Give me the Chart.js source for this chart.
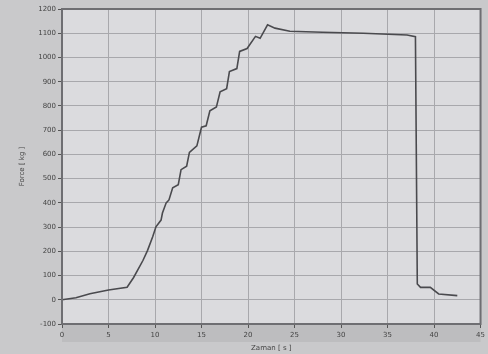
<!DOCTYPE html>
<html>
<head>
<meta charset="utf-8">
<script src="https://cdn.jsdelivr.net/npm/chart.js@4/dist/chart.umd.min.js"></script>
<style>
  html, body { margin: 0; padding: 0; background: #c9c9cb; }
  #wrap { width: 488px; height: 354px; }
</style>
</head>
<body>
<div id="wrap"><canvas id="c" width="488" height="354"></canvas></div>
<script>
// time in seconds
const timeS = [0, 1.5, 3, 5, 7, 7.7, 8.7, 9.2, 9.75, 10.1, 10.65, 10.8, 11.2, 11.5, 11.9, 12.5,
  12.8, 13.4, 13.7, 14.5, 15.0, 15.5, 15.9, 16.6, 17.0, 17.7, 18.0, 18.8, 19.1, 19.9, 20.8,
  21.3, 22.1, 22.9, 24.5, 28, 32.4, 37.1, 38.0, 38.2, 38.55, 39.6, 40.5, 42.5];
// force in kg
const forceKg = [0, 8, 25, 40, 52, 92, 162, 204, 260, 301, 329, 358, 400, 412, 462, 475,
  537, 551, 608, 635, 712, 718, 780, 796, 858, 871, 942, 954, 1025, 1037, 1087,
  1079, 1135, 1121, 1108, 1104, 1100, 1093, 1086, 65, 51, 51, 24, 17];

const xTitle = 'Zaman [ s ]';
const yTitle = 'Force [ kg ]';

const points = timeS.map(function (t, i) { return { x: t, y: forceKg[i] }; });

// paints the scan-like backgrounds: grey page, lighter plot area, darker band under it
const backdrop = {
  id: 'backdrop',
  beforeDraw: function (chart) {
    const ctx = chart.ctx;
    const a = chart.chartArea;
    ctx.save();
    ctx.fillStyle = '#c9c9cb';
    ctx.fillRect(0, 0, chart.width, chart.height);
    ctx.fillStyle = '#bdbdbf';
    ctx.fillRect(a.left, a.bottom, a.right - a.left, 18);
    ctx.fillStyle = '#dbdbde';
    ctx.fillRect(a.left, a.top, a.right - a.left, a.bottom - a.top);
    ctx.restore();
  },
  afterDraw: function (chart) {
    const ctx = chart.ctx;
    const a = chart.chartArea;
    ctx.save();
    ctx.strokeStyle = '#6e6e72';
    ctx.lineWidth = 2;
    ctx.strokeRect(a.left, a.top, a.right - a.left, a.bottom - a.top);
    ctx.restore();
  }
};

new Chart(document.getElementById('c'), {
  type: 'line',
  data: {
    datasets: [{
      data: points,
      borderColor: '#4a4a4e',
      borderWidth: 1.6,
      pointRadius: 0,
      tension: 0,
      fill: false
    }]
  },
  options: {
    responsive: false,
    animation: false,
    layout: { padding: { left: 0, right: 5, top: 9, bottom: 0 } },
    plugins: { legend: { display: false }, tooltip: { enabled: false } },
    scales: {
      x: {
        type: 'linear',
        min: 0,
        max: 45,
        ticks: { stepSize: 5, color: '#444', font: { family: 'DejaVu Sans', size: 7 }, padding: 3 },
        grid: { color: '#a8a8ac', lineWidth: 1, tickLength: 4, tickColor: '#555' },
        border: { display: false },
        title: { display: true, text: xTitle, color: '#444', font: { family: 'DejaVu Sans', size: 7 }, padding: { top: 0, bottom: 2 } },
        afterFit: function (scale) { scale.height = 30; }
      },
      y: {
        min: -100,
        max: 1200,
        ticks: {
          stepSize: 100, color: '#444', font: { family: 'DejaVu Sans', size: 7 }, padding: 2,
          callback: function (v) { return String(v); }
        },
        grid: { color: '#a8a8ac', lineWidth: 1, tickLength: 4, tickColor: '#555' },
        border: { display: false },
        title: { display: true, text: yTitle, color: '#444', font: { family: 'DejaVu Sans', size: 7 }, padding: { top: 18, bottom: 0 } },
        afterFit: function (scale) { scale.width = 62; }
      }
    }
  },
  plugins: [backdrop]
});
</script>
</body>
</html>
